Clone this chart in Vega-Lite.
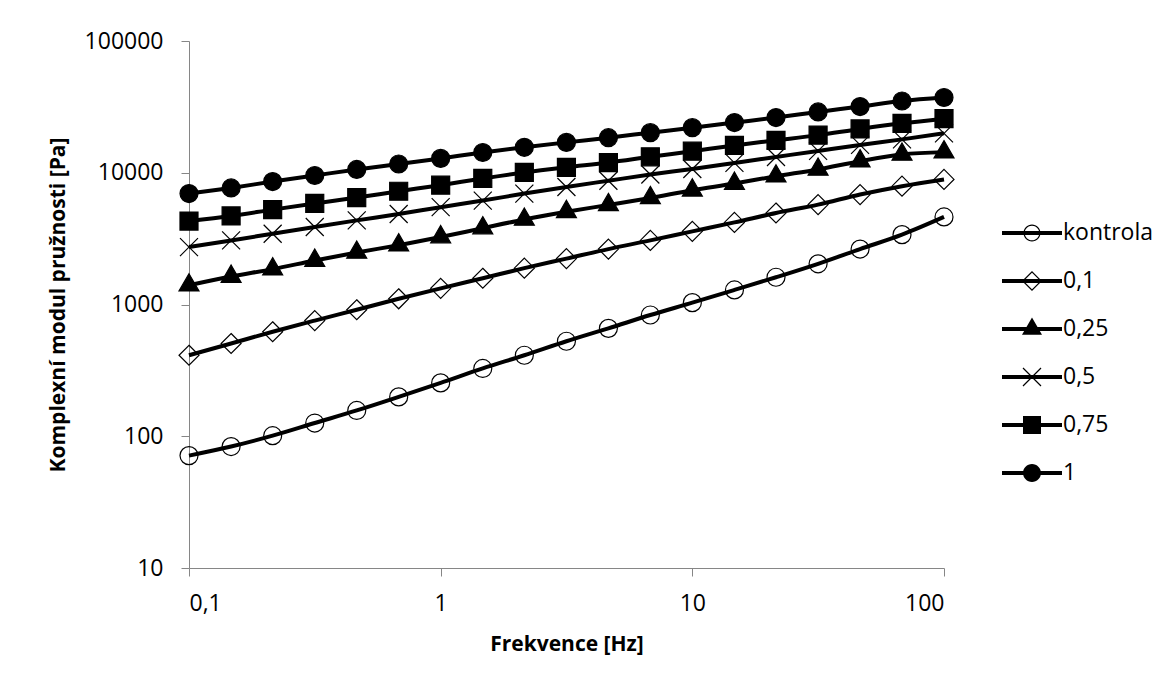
{
  "$schema": "https://vega.github.io/schema/vega-lite/v6.json",
  "autosize": {"type": "none"},
  "width": 755,
  "height": 527,
  "padding": {"left": 189, "top": 41, "right": 227, "bottom": 117},
  "background": "white",
  "config": {
    "font": "Open Sans",
    "view": {"stroke": null},
    "axis": {
      "grid": false,
      "domainColor": "#868686",
      "domainWidth": 1,
      "tickColor": "#868686",
      "tickWidth": 1,
      "tickSize": 8,
      "labelFont": "Open Sans",
      "labelFontSize": 23,
      "labelColor": "#000000",
      "titleFont": "Open Sans",
      "titleFontSize": 21,
      "titleFontWeight": "bold",
      "titleColor": "#000000"
    }
  },
  "data": {
    "values": [
      {"f": 0.1, "series": "kontrola", "G": 71.3},
      {"f": 0.147, "series": "kontrola", "G": 83.5},
      {"f": 0.215, "series": "kontrola", "G": 101},
      {"f": 0.316, "series": "kontrola", "G": 126},
      {"f": 0.464, "series": "kontrola", "G": 157},
      {"f": 0.681, "series": "kontrola", "G": 199},
      {"f": 1, "series": "kontrola", "G": 254},
      {"f": 1.47, "series": "kontrola", "G": 327},
      {"f": 2.15, "series": "kontrola", "G": 412},
      {"f": 3.16, "series": "kontrola", "G": 526},
      {"f": 4.64, "series": "kontrola", "G": 659},
      {"f": 6.81, "series": "kontrola", "G": 832},
      {"f": 10, "series": "kontrola", "G": 1033},
      {"f": 14.7, "series": "kontrola", "G": 1290},
      {"f": 21.5, "series": "kontrola", "G": 1610},
      {"f": 31.6, "series": "kontrola", "G": 2036},
      {"f": 46.4, "series": "kontrola", "G": 2634},
      {"f": 68.1, "series": "kontrola", "G": 3390},
      {"f": 100, "series": "kontrola", "G": 4620},

      {"f": 0.1, "series": "0,1", "G": 412},
      {"f": 0.147, "series": "0,1", "G": 506},
      {"f": 0.215, "series": "0,1", "G": 621},
      {"f": 0.316, "series": "0,1", "G": 755},
      {"f": 0.464, "series": "0,1", "G": 912},
      {"f": 0.681, "series": "0,1", "G": 1105},
      {"f": 1, "series": "0,1", "G": 1326},
      {"f": 1.47, "series": "0,1", "G": 1583},
      {"f": 2.15, "series": "0,1", "G": 1888},
      {"f": 3.16, "series": "0,1", "G": 2230},
      {"f": 4.64, "series": "0,1", "G": 2634},
      {"f": 6.81, "series": "0,1", "G": 3065},
      {"f": 10, "series": "0,1", "G": 3590},
      {"f": 14.7, "series": "0,1", "G": 4200},
      {"f": 21.5, "series": "0,1", "G": 4950},
      {"f": 31.6, "series": "0,1", "G": 5730},
      {"f": 46.4, "series": "0,1", "G": 6830},
      {"f": 68.1, "series": "0,1", "G": 7910},
      {"f": 100, "series": "0,1", "G": 8900},

      {"f": 0.1, "series": "0,25", "G": 1400},
      {"f": 0.147, "series": "0,25", "G": 1629},
      {"f": 0.215, "series": "0,25", "G": 1855},
      {"f": 0.316, "series": "0,25", "G": 2157},
      {"f": 0.464, "series": "0,25", "G": 2482},
      {"f": 0.681, "series": "0,25", "G": 2820},
      {"f": 1, "series": "0,25", "G": 3250},
      {"f": 1.47, "series": "0,25", "G": 3800},
      {"f": 2.15, "series": "0,25", "G": 4420},
      {"f": 3.16, "series": "0,25", "G": 5050},
      {"f": 4.64, "series": "0,25", "G": 5700},
      {"f": 6.81, "series": "0,25", "G": 6440},
      {"f": 10, "series": "0,25", "G": 7360},
      {"f": 14.7, "series": "0,25", "G": 8280},
      {"f": 21.5, "series": "0,25", "G": 9410},
      {"f": 31.6, "series": "0,25", "G": 10590},
      {"f": 46.4, "series": "0,25", "G": 12240},
      {"f": 68.1, "series": "0,25", "G": 13770},
      {"f": 100, "series": "0,25", "G": 14340},

      {"f": 0.1, "series": "0,5", "G": 2729},
      {"f": 0.147, "series": "0,5", "G": 3063},
      {"f": 0.215, "series": "0,5", "G": 3443},
      {"f": 0.316, "series": "0,5", "G": 3874},
      {"f": 0.464, "series": "0,5", "G": 4350},
      {"f": 0.681, "series": "0,5", "G": 4866},
      {"f": 1, "series": "0,5", "G": 5480},
      {"f": 1.47, "series": "0,5", "G": 6150},
      {"f": 2.15, "series": "0,5", "G": 6950},
      {"f": 3.16, "series": "0,5", "G": 7800},
      {"f": 4.64, "series": "0,5", "G": 8700},
      {"f": 6.81, "series": "0,5", "G": 9700},
      {"f": 10, "series": "0,5", "G": 10680},
      {"f": 14.7, "series": "0,5", "G": 11870},
      {"f": 21.5, "series": "0,5", "G": 13180},
      {"f": 31.6, "series": "0,5", "G": 14650},
      {"f": 46.4, "series": "0,5", "G": 16270},
      {"f": 68.1, "series": "0,5", "G": 17920},
      {"f": 100, "series": "0,5", "G": 19920},

      {"f": 0.1, "series": "0,75", "G": 4300},
      {"f": 0.147, "series": "0,75", "G": 4700},
      {"f": 0.215, "series": "0,75", "G": 5250},
      {"f": 0.316, "series": "0,75", "G": 5850},
      {"f": 0.464, "series": "0,75", "G": 6480},
      {"f": 0.681, "series": "0,75", "G": 7240},
      {"f": 1, "series": "0,75", "G": 8050},
      {"f": 1.47, "series": "0,75", "G": 9050},
      {"f": 2.15, "series": "0,75", "G": 10050},
      {"f": 3.16, "series": "0,75", "G": 11000},
      {"f": 4.64, "series": "0,75", "G": 11950},
      {"f": 6.81, "series": "0,75", "G": 13220},
      {"f": 10, "series": "0,75", "G": 14580},
      {"f": 14.7, "series": "0,75", "G": 16130},
      {"f": 21.5, "series": "0,75", "G": 17630},
      {"f": 31.6, "series": "0,75", "G": 19300},
      {"f": 46.4, "series": "0,75", "G": 21500},
      {"f": 68.1, "series": "0,75", "G": 23720},
      {"f": 100, "series": "0,75", "G": 25740},

      {"f": 0.1, "series": "1", "G": 6950},
      {"f": 0.147, "series": "1", "G": 7670},
      {"f": 0.215, "series": "1", "G": 8570},
      {"f": 0.316, "series": "1", "G": 9530},
      {"f": 0.464, "series": "1", "G": 10600},
      {"f": 0.681, "series": "1", "G": 11650},
      {"f": 1, "series": "1", "G": 12850},
      {"f": 1.47, "series": "1", "G": 14250},
      {"f": 2.15, "series": "1", "G": 15600},
      {"f": 3.16, "series": "1", "G": 17000},
      {"f": 4.64, "series": "1", "G": 18450},
      {"f": 6.81, "series": "1", "G": 20150},
      {"f": 10, "series": "1", "G": 21990},
      {"f": 14.7, "series": "1", "G": 24040},
      {"f": 21.5, "series": "1", "G": 26230},
      {"f": 31.6, "series": "1", "G": 28930},
      {"f": 46.4, "series": "1", "G": 31790},
      {"f": 68.1, "series": "1", "G": 35040},
      {"f": 100, "series": "1", "G": 37240}
    ]
  },
  "encoding": {
    "x": {
      "field": "f",
      "type": "quantitative",
      "scale": {"type": "log", "domain": [0.1, 100], "nice": false},
      "axis": {
        "title": "Frekvence [Hz]",
        "values": [0.1, 1, 10, 100],
        "labelExpr": "replace(format(datum.value, '~g'), '.', ',')",
        "labelPadding": 16,
        "titlePadding": 18
      }
    },
    "y": {
      "field": "G",
      "type": "quantitative",
      "scale": {"type": "log", "domain": [10, 100000], "nice": false},
      "axis": {
        "title": "Komplexní modul pružnosti [Pa]",
        "values": [10, 100, 1000, 10000, 100000],
        "format": "d",
        "labelPadding": 18,
        "titlePadding": 16
      }
    }
  },
  "layer": [
    {
      "mark": {"type": "line", "interpolate": "monotone", "color": "#000000", "strokeWidth": 4},
      "encoding": {"detail": {"field": "series"}}
    },
    {
      "mark": {"type": "point", "opacity": 1, "stroke": "#000000", "strokeWidth": 1.2, "size": 324},
      "encoding": {
        "fill": {
          "condition": {"test": "indexof(['0,25', '0,75', '1'], datum.series) >= 0", "value": "#000000"},
          "value": "transparent"
        },
        "shape": {
          "field": "series",
          "type": "nominal",
          "scale": {
            "domain": ["kontrola", "0,1", "0,25", "0,5", "0,75", "1"],
            "range": [
              "circle",
              "M0,-1.11L1.11,0L0,1.11L-1.11,0Z",
              "M0,-1.28L1.11,0.64L-1.11,0.64Z",
              "M-1,-1L1,1M1,-1L-1,1",
              "square",
              "circle"
            ]
          },
          "legend": null
        }
      }
    },
    {
      "mark": {"type": "point", "filled": true, "color": "#000000", "opacity": 0, "strokeWidth": 0, "size": 900},
      "encoding": {
        "shape": {
          "field": "series",
          "type": "nominal",
          "scale": {
            "domain": ["kontrola", "0,1", "0,25", "0,5", "0,75", "1"],
            "range": [
              "M-2,-0.133H2V0.133H-2ZM0.567,0A0.567,0.567,0,1,1,-0.567,0A0.567,0.567,0,1,1,0.567,0ZM0.487,0A0.487,0.487,0,1,0,-0.487,0A0.487,0.487,0,1,0,0.487,0Z",
              "M-2,-0.133H2V0.133H-2ZM0,-0.667L0.667,0L0,0.667L-0.667,0ZM0,-0.553L-0.553,0L0,0.553L0.553,0Z",
              "M-2,-0.133H2V0.133H-2ZM0,-0.77L0.667,0.385L-0.667,0.385Z",
              "M-2,-0.133H2V0.133H-2ZM-0.572,-0.628L0.628,0.572L0.572,0.628L-0.628,-0.572ZM0.628,-0.572L-0.572,0.628L-0.628,0.572L0.572,-0.628Z",
              "M-2,-0.133H2V0.133H-2ZM-0.6,-0.6H0.6V0.6H-0.6Z",
              "M-2,-0.133H2V0.133H-2ZM0.6,0A0.6,0.6,0,1,1,-0.6,0A0.6,0.6,0,1,1,0.6,0Z"
            ]
          },
          "legend": {
            "title": null,
            "orient": "none",
            "legendX": 828,
            "legendY": 177,
            "padding": 0,
            "symbolSize": 900,
            "symbolOpacity": 1,
            "symbolFillColor": "#000000",
            "symbolStrokeWidth": 0,
            "labelFont": "Open Sans",
            "labelFontSize": 23,
            "labelColor": "#000000",
            "labelOffset": 16,
            "rowPadding": 21
          }
        }
      }
    }
  ],
  "resolve": {"scale": {"shape": "independent"}, "legend": {"shape": "independent"}}
}
